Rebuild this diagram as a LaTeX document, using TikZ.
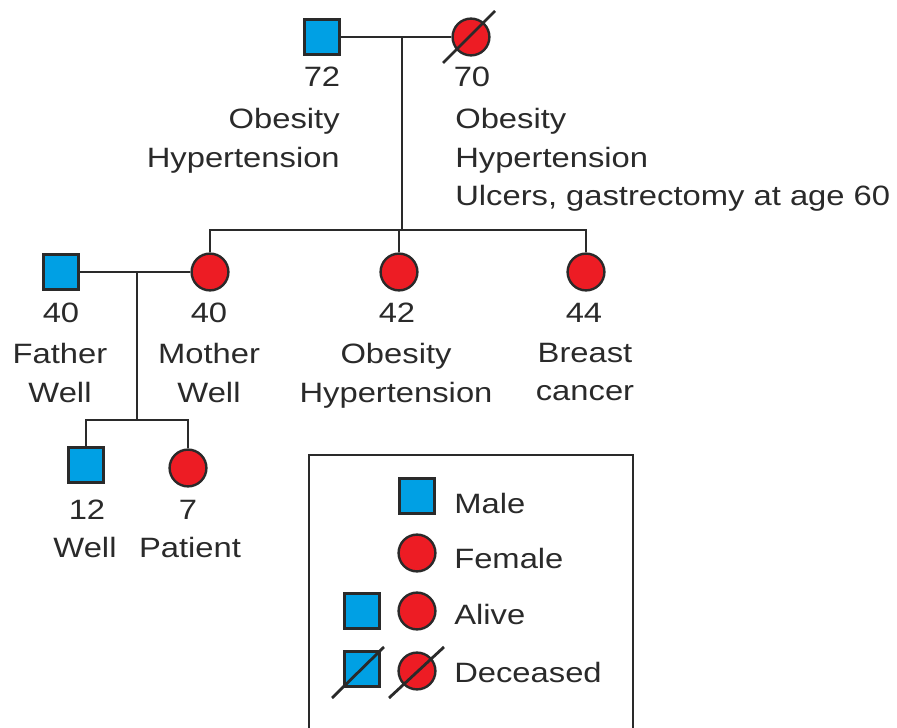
\documentclass[tikz,border=0pt]{standalone}
\usepackage{fontspec}
\setmainfont{Liberation Sans}[FakeStretch=1.17]
\usepackage{xcolor}
\usepackage{tikz}
\usetikzlibrary{positioning}

\definecolor{malefill}{RGB}{0,160,228}
\definecolor{femfill}{RGB}{237,28,36}
\definecolor{ink}{RGB}{42,42,42}

\begin{document}
\begin{tikzpicture}[
    x=0.025cm, y=-0.025cm,
    malesq/.style={draw=ink, fill=malefill, line width=1.9pt, minimum size=0.86cm, inner sep=0pt},
    femcirc/.style={draw=ink, fill=femfill, circle, line width=1.7pt, minimum size=0.92cm, inner sep=0pt},
    rel/.style={draw=ink, line width=2.1pt},
    slash/.style={draw=ink, line width=2pt},
    lbl/.style={text=ink, inner sep=0pt, font=\fontsize{19.9}{27.7}\selectfont}
  ]
    \path[use as bounding box, clip] (0,0) rectangle (897,728);

    % Grandparents
    \node[malesq]  (gf) at (322,37) {};
    \node[femcirc] (gm) at (471,37) {};
    \draw[slash] ([shift={(-28,26)}]gm.center) -- ([shift={(24,-26)}]gm.center);
    \node[lbl, anchor=base] (gfage) at (322,87) {72};
    \node[lbl, anchor=north east, align=right] (gfdx) at (340,107.5) {Obesity\\Hypertension};
    \node[lbl, anchor=base] (gmage) at (472,87) {70};
    \node[lbl, anchor=north west, align=left] (gmdx) at (455,107.5)
      {Obesity\\Hypertension\\Ulcers, gastrectomy at age 60};

    % Their children
    \node[femcirc] (mo)    at (210,272) {};
    \node[femcirc] (aunta) at (399,272) {};
    \node[femcirc] (auntb) at (586,272) {};
    \coordinate (gmid) at (402,37);
    \coordinate (sibs) at (402,230);
    \draw[rel] (gf) -- (gm);
    \draw[rel] (gmid) -- (sibs);
    \draw[rel] (mo) -- (mo |- sibs) -- (auntb |- sibs) -- (auntb);
    \draw[rel] (aunta |- sibs) -- (aunta);

    \node[lbl, anchor=base] (moage) at (209,323) {40};
    \node[lbl, anchor=north, align=center] (modx) at (209,342.5) {Mother\\Well};
    \node[lbl, anchor=base] (aaage) at (397,323) {42};
    \node[lbl, anchor=north, align=center] (aadx) at (396,342.5) {Obesity\\Hypertension};
    \node[lbl, anchor=base] (abage) at (584,323) {44};
    \node[lbl, anchor=north, align=center] (abdx) at (585,342.5) {Breast\\cancer};

    % Parents
    \node[malesq] (fa) at (61,272) {};
    \coordinate (pmid) at (137,272);
    \coordinate (kids) at (137,420);
    \draw[rel] (fa) -- (mo);
    \draw[rel] (pmid) -- (kids);
    \node[lbl, anchor=base] (faage) at (61,323) {40};
    \node[lbl, anchor=north, align=center] (fadx) at (60,342.5) {Father\\Well};

    % Grandchildren
    \node[malesq]  (bro) at (86,465) {};
    \node[femcirc] (pt)  at (188,468) {};
    \draw[rel] (bro) -- (bro |- kids) -- (pt |- kids) -- (pt);
    \node[lbl, anchor=base] (broage) at (87,520) {12};
    \node[lbl, anchor=base] (brodx)  at (85,558) {Well};
    \node[lbl, anchor=base] (ptage)  at (188,520) {7};
    \node[lbl, anchor=base] (ptdx)   at (190,558) {Patient};

    % Legend
    \draw[ink, line width=1.7pt] (309,455) rectangle (633,760);
    \node[malesq]  (lgm)  at (417,496) {};
    \node[femcirc] (lgf)  at (417,553) {};
    \node[malesq]  (lgam) at (362,611) {};
    \node[femcirc] (lgaf) at (417,611) {};
    \node[malesq]  (lgdm) at (362,669) {};
    \node[femcirc] (lgdf) at (417,671) {};
    \draw[slash] ([shift={(-30,29)}]lgdm.center) -- ([shift={(22,-22)}]lgdm.center);
    \draw[slash] ([shift={(-28,27)}]lgdf.center) -- ([shift={(27,-24)}]lgdf.center);
    \node[lbl, anchor=base west] (lgmt) at (454,514) {Male};
    \node[lbl, anchor=base west] (lgft) at (454,569) {Female};
    \node[lbl, anchor=base west] (lgat) at (454,625) {Alive};
    \node[lbl, anchor=base west] (lgdt) at (454,683) {Deceased};
  \end{tikzpicture}
\end{document}
